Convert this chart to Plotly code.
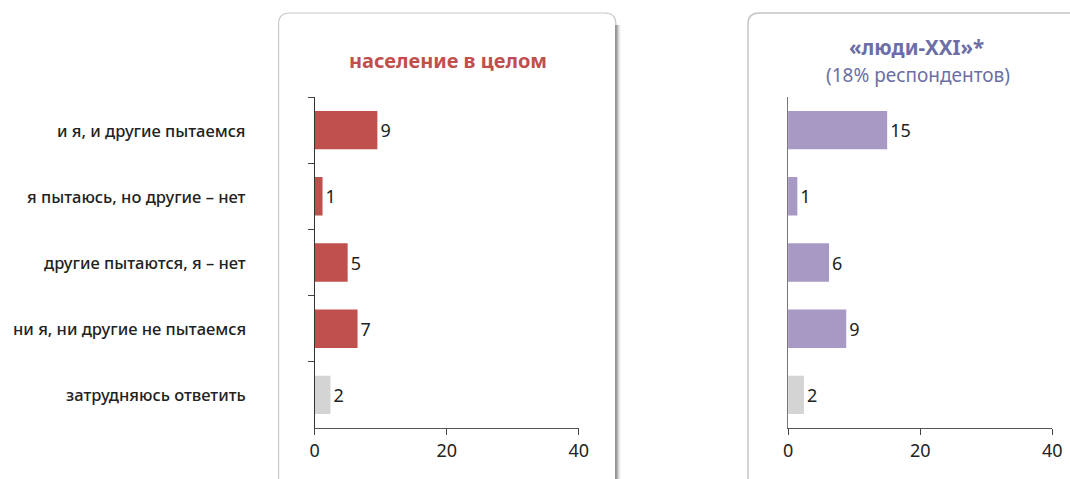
import plotly.graph_objects as go

categories = ["и я, и другие пытаемся", "я пытаюсь, но другие – нет",
              "другие пытаются, я – нет", "ни я, ни другие не пытаемся",
              "затрудняюсь ответить"]
population_values = [9.5, 1.2, 5.0, 6.5, 2.4]
population_labels = ["9", "1", "5", "7", "2"]
people21_values = [15.0, 1.4, 6.2, 8.8, 2.4]
people21_labels = ["15", "1", "6", "9", "2"]
x_ticks = [0, 20, 40]

title_left = "население в целом"
title_right = "«люди-XXI»*"
subtitle_right = "(18% респондентов)"

RED = "#c0504d"
PURPLE = "#a898c4"
GRAY = "#d4d4d4"
W, H = 1070, 479
FONT = "Noto Sans"
SX, OX = 0.985, 4.7  # horizontal calibration of the rendered page


def fx(x):
    return ((x - OX) / SX) / W


def fy(y):
    return 1 - y / H


def card_path(x0, x1, y0, y1, r):
    return (f"M {fx(x0)},{fy(y1)} L {fx(x0)},{fy(y0 + r)} "
            f"Q {fx(x0)},{fy(y0)} {fx(x0 + r)},{fy(y0)} "
            f"L {fx(x1 - r)},{fy(y0)} Q {fx(x1)},{fy(y0)} {fx(x1)},{fy(y0 + r)} "
            f"L {fx(x1)},{fy(y1)}")


fig = go.Figure()
fig.add_trace(go.Bar(
    y=categories, x=population_values, orientation="h",
    marker=dict(color=[RED] * 4 + [GRAY], line=dict(width=0)),
    text=population_labels, textposition="outside", cliponaxis=False,
    textfont=dict(size=18, color="#222", family=FONT),
    xaxis="x", yaxis="y", hoverinfo="skip"))
fig.add_trace(go.Bar(
    y=categories, x=people21_values, orientation="h",
    marker=dict(color=[PURPLE] * 4 + [GRAY], line=dict(width=0)),
    text=people21_labels, textposition="outside", cliponaxis=False,
    textfont=dict(size=18, color="#222", family=FONT),
    xaxis="x2", yaxis="y2", hoverinfo="skip"))

ydom = [fy(428), fy(97)]
xcommon = dict(range=[0, 40], tickvals=x_ticks, ticks="outside", ticklen=6,
               tickcolor="#444", showline=True, linecolor="#555", linewidth=1,
               showgrid=False, zeroline=False,
               tickfont=dict(size=18, color="#222", family=FONT))

shapes = []
# card shadows
for i, op in enumerate([0.35, 0.2, 0.1, 0.05]):
    shapes.append(dict(type="line", xref="paper", yref="paper",
                       x0=fx(616 + i), x1=fx(616 + i), y0=fy(25), y1=fy(490),
                       line=dict(color=f"rgba(0,0,0,{op})", width=1.2), layer="below"))
shapes.append(dict(type="path", xref="paper", yref="paper",
                   path=card_path(278, 615, 13, 495, 11),
                   line=dict(color="#c8c8c8", width=1.2), layer="below"))
shapes.append(dict(type="line", xref="paper", yref="paper",
                   x0=fx(615), x1=fx(615), y0=fy(25), y1=fy(495),
                   line=dict(color="#8a8a8a", width=1.5), layer="below"))
shapes.append(dict(type="path", xref="paper", yref="paper",
                   path=card_path(747, 1095, 13, 495, 11),
                   line=dict(color="#c4c4c4", width=1.5), layer="below"))

annotations = []
for c in categories:
    annotations.append(dict(xref="paper", yref="y", x=fx(247), y=c,
                            text=c, showarrow=False, xanchor="right", yanchor="middle",
                            font=dict(size=16.5, color="#222", family=FONT, weight=500)))
annotations.append(dict(xref="paper", yref="paper", x=fx(447), y=fy(60),
                        text=f"<b>{title_left}</b>", showarrow=False,
                        xanchor="center", yanchor="middle",
                        font=dict(size=20, color=RED, family=FONT)))
annotations.append(dict(xref="paper", yref="paper", x=fx(915), y=fy(47),
                        text=f"<b>{title_right}</b>", showarrow=False,
                        xanchor="center", yanchor="middle",
                        font=dict(size=20.5, color="#6b6fa6", family=FONT)))
annotations.append(dict(xref="paper", yref="paper", x=fx(917), y=fy(75),
                        text=subtitle_right, showarrow=False,
                        xanchor="center", yanchor="middle",
                        font=dict(size=19, color="#6b6fa6", family=FONT)))

fig.update_layout(
    width=W, height=H, autosize=False, margin=dict(l=0, r=0, t=0, b=0),
    paper_bgcolor="white", plot_bgcolor="rgba(0,0,0,0)",
    showlegend=False, bargap=0.42,
    xaxis=dict(domain=[fx(314), fx(578)], anchor="y", **xcommon),
    xaxis2=dict(domain=[fx(787), fx(1051)], anchor="y2", **xcommon),
    yaxis=dict(domain=ydom, anchor="x", range=[4.5, -0.5], showticklabels=False,
               ticks="outside", tickson="boundaries", ticklen=6, tickcolor="#444",
               showline=True, linecolor="#333", linewidth=1, showgrid=False,
               zeroline=False),
    yaxis2=dict(domain=ydom, anchor="x2", range=[4.5, -0.5], showticklabels=False,
                ticks="", showline=True, linecolor="#777", linewidth=1,
                showgrid=False, zeroline=False),
    shapes=shapes, annotations=annotations,
)

fig.write_html(
    "out.html",
    config={"displayModeBar": False, "responsive": False},
    post_script=("document.body.style.margin='0px';"
                 "document.body.style.overflow='hidden';"
                 "var gd=document.getElementById('{plot_id}');"
                 "gd.style.width='1070px';gd.style.height='479px';"
                 "Plotly.relayout(gd,{width:1070,height:479});"),
)
